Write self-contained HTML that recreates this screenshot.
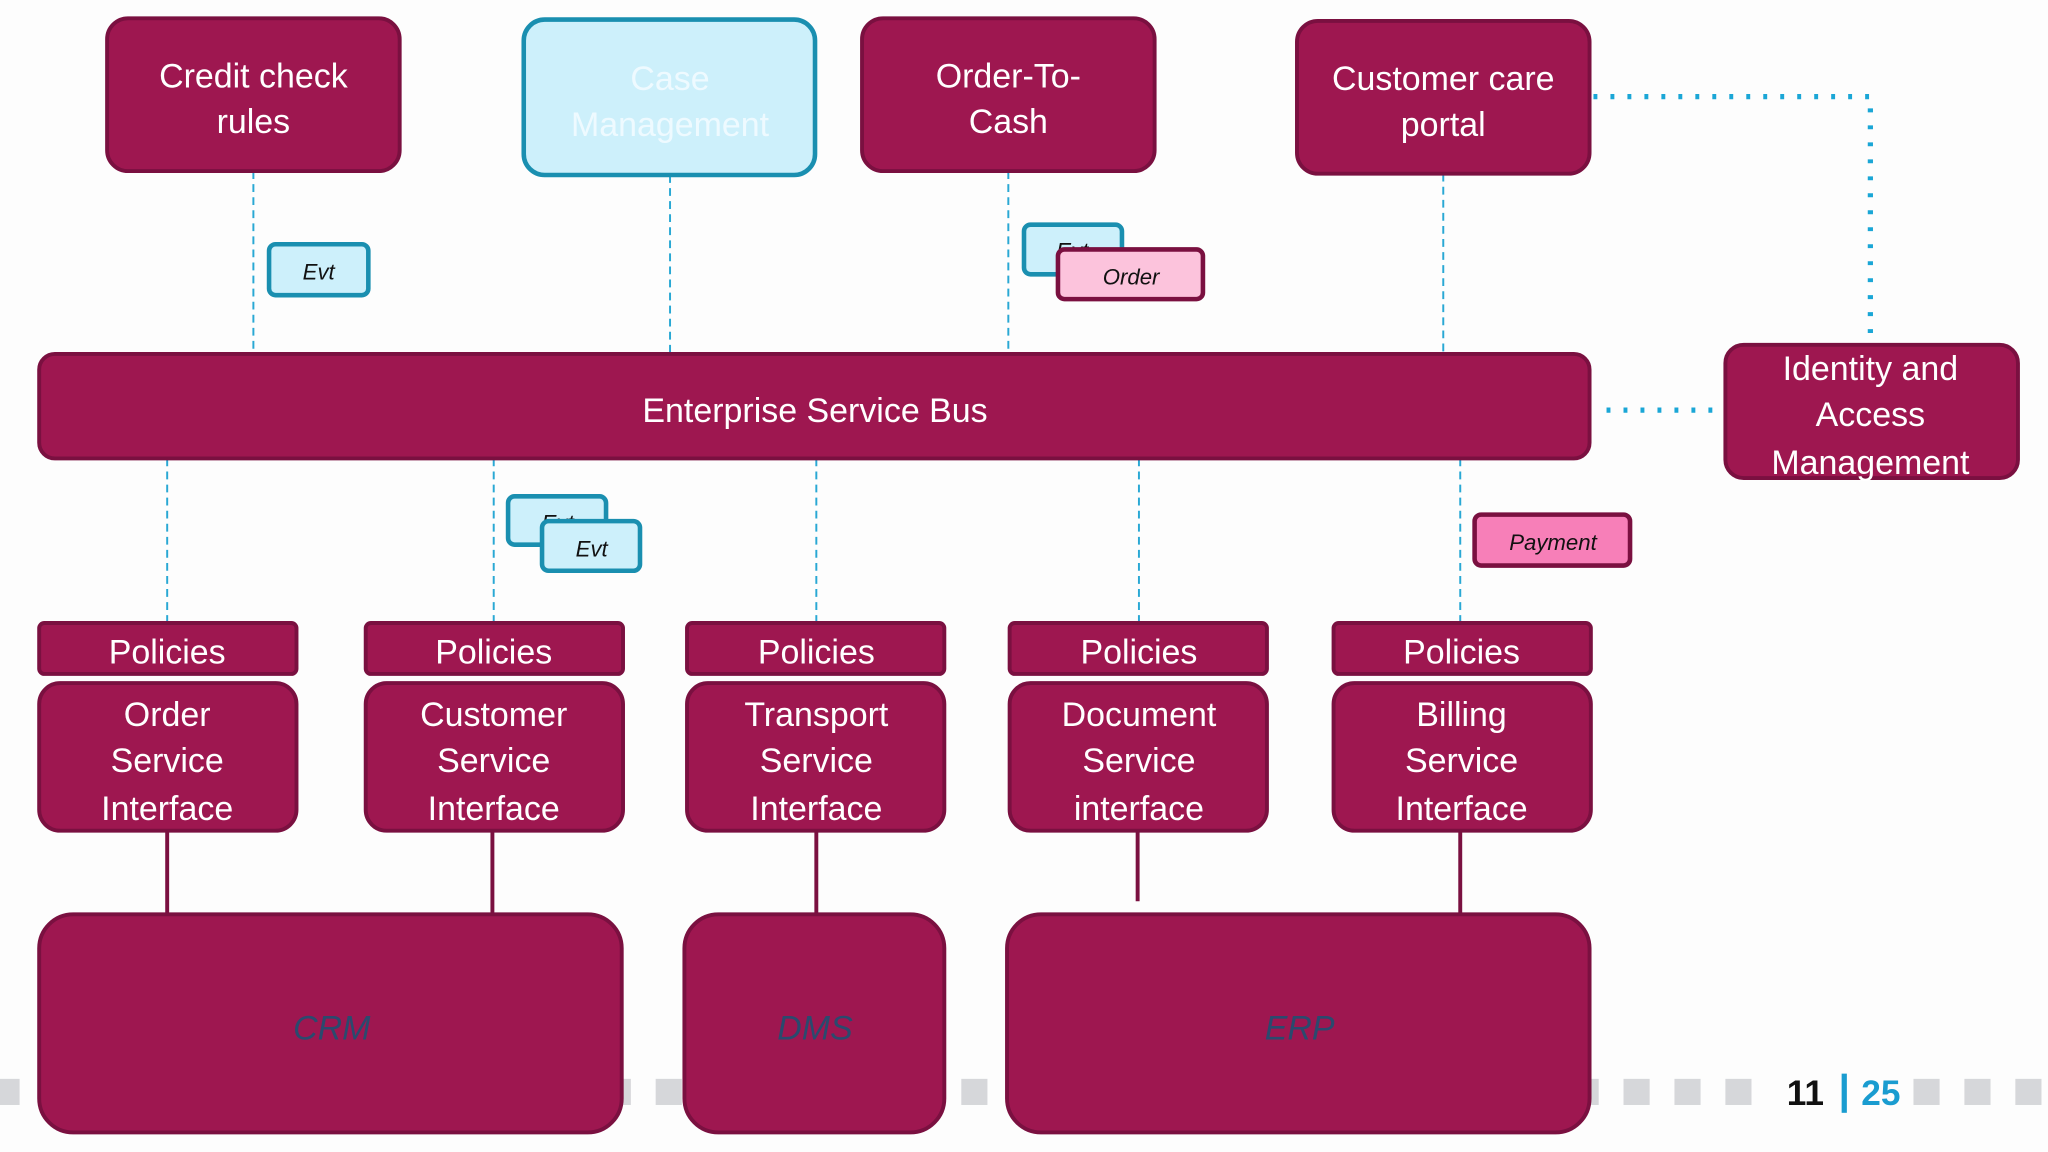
<!DOCTYPE html>
<html><head><meta charset="utf-8"><style>
html,body{margin:0;padding:0;background:#fff;width:2048px;height:1152px;overflow:hidden}
svg{display:block}
text{font-family:"Liberation Sans",sans-serif}
</style></head><body>
<svg width="2048" height="1152" viewBox="0 0 1568 882" xmlns="http://www.w3.org/2000/svg">
<rect width="1568" height="882" fill="#fdfdfd"/>
<g fill="#d6d7da">
<rect x="-5" y="826" width="20" height="20"/><rect x="34" y="826" width="20" height="20"/><rect x="73" y="826" width="20" height="20"/><rect x="112" y="826" width="20" height="20"/><rect x="151" y="826" width="20" height="20"/><rect x="190" y="826" width="20" height="20"/><rect x="229" y="826" width="20" height="20"/><rect x="268" y="826" width="20" height="20"/><rect x="307" y="826" width="20" height="20"/><rect x="346" y="826" width="20" height="20"/><rect x="385" y="826" width="20" height="20"/><rect x="424" y="826" width="20" height="20"/><rect x="463" y="826" width="20" height="20"/><rect x="502" y="826" width="20" height="20"/><rect x="541" y="826" width="20" height="20"/><rect x="580" y="826" width="20" height="20"/><rect x="619" y="826" width="20" height="20"/><rect x="658" y="826" width="20" height="20"/><rect x="697" y="826" width="20" height="20"/><rect x="736" y="826" width="20" height="20"/><rect x="775" y="826" width="20" height="20"/><rect x="814" y="826" width="20" height="20"/><rect x="853" y="826" width="20" height="20"/><rect x="892" y="826" width="20" height="20"/><rect x="931" y="826" width="20" height="20"/><rect x="970" y="826" width="20" height="20"/><rect x="1009" y="826" width="20" height="20"/><rect x="1048" y="826" width="20" height="20"/><rect x="1087" y="826" width="20" height="20"/><rect x="1126" y="826" width="20" height="20"/><rect x="1165" y="826" width="20" height="20"/><rect x="1204" y="826" width="20" height="20"/><rect x="1243" y="826" width="20" height="20"/><rect x="1282" y="826" width="20" height="20"/><rect x="1321" y="826" width="20" height="20"/><rect x="1465" y="826" width="20" height="20"/><rect x="1504" y="826" width="20" height="20"/><rect x="1543" y="826" width="20" height="20"/>
</g>
<text x="1368" y="846" font-size="27" font-weight="bold" fill="#111">11</text>
<rect x="1410" y="822" width="4" height="30" fill="#1a9cd0"/>
<text x="1425" y="846" font-size="27" font-weight="bold" fill="#1a9cd0">25</text>

<g stroke="#29a8d4" stroke-width="1.5" stroke-dasharray="6,4">
<line x1="194" y1="131" x2="194" y2="271"/><line x1="513" y1="134" x2="513" y2="271"/><line x1="772" y1="131" x2="772" y2="271"/><line x1="1105" y1="133" x2="1105" y2="271"/>
<line x1="128" y1="351" x2="128" y2="477"/><line x1="378" y1="351" x2="378" y2="477"/><line x1="625" y1="351" x2="625" y2="477"/><line x1="872" y1="351" x2="872" y2="477"/><line x1="1118" y1="351" x2="1118" y2="477"/>
</g>
<g stroke="#1aa6d6" stroke-width="4" stroke-dasharray="3,10" fill="none">
<polyline points="1220,74 1432,74 1432,264"/>
<line x1="1230" y1="314" x2="1318" y2="314"/>
</g>
<g stroke="#7a1040" stroke-width="3">
<line x1="128" y1="636" x2="128" y2="700"/><line x1="377" y1="636" x2="377" y2="700"/><line x1="625" y1="636" x2="625" y2="700"/><line x1="871" y1="636" x2="871" y2="690"/><line x1="1118" y1="636" x2="1118" y2="700"/>
</g>

<g fill="#9e1750" stroke="#7a1040" stroke-width="3">
<rect x="82" y="14" width="224" height="117" rx="16"/>
<rect x="660" y="14" width="224" height="117" rx="16"/>
<rect x="993" y="16" width="224" height="117" rx="16"/>
<rect x="30" y="271" width="1187" height="80" rx="12"/>
<rect x="1321" y="264" width="224" height="102" rx="14"/>
<rect x="30" y="477" width="197" height="39" rx="4"/><rect x="280" y="477" width="197" height="39" rx="4"/><rect x="526" y="477" width="197" height="39" rx="4"/><rect x="773" y="477" width="197" height="39" rx="4"/><rect x="1021" y="477" width="197" height="39" rx="4"/>
<rect x="30" y="523" width="197" height="113" rx="16"/><rect x="280" y="523" width="197" height="113" rx="16"/><rect x="526" y="523" width="197" height="113" rx="16"/><rect x="773" y="523" width="197" height="113" rx="16"/><rect x="1021" y="523" width="197" height="113" rx="16"/>
<rect x="30" y="700" width="446" height="167" rx="26"/>
<rect x="524" y="700" width="199" height="167" rx="26"/>
<rect x="771" y="700" width="446" height="167" rx="26"/>
</g>
<rect x="401" y="15" width="223" height="119" rx="16" fill="#cdf0fb" stroke="#1a8fb0" stroke-width="3.5"/>

<g font-size="17" font-style="italic" fill="#111" text-anchor="middle">
<rect x="206" y="187" width="76" height="39" rx="5" fill="#cdf0fb" stroke="#1a8fb0" stroke-width="3.5"/>
<text x="244" y="214">Evt</text>
<rect x="784" y="172" width="75" height="38" rx="5" fill="#cdf0fb" stroke="#1a8fb0" stroke-width="3.5"/>
<text x="821" y="198">Evt</text>
<rect x="810" y="191" width="111" height="38" rx="5" fill="#fcc3dc" stroke="#7a1040" stroke-width="3.5"/>
<text x="866" y="218">Order</text>
<rect x="389" y="380" width="75" height="37" rx="5" fill="#cdf0fb" stroke="#1a8fb0" stroke-width="3.5"/>
<text x="427" y="406">Evt</text>
<rect x="415" y="399" width="75" height="38" rx="5" fill="#cdf0fb" stroke="#1a8fb0" stroke-width="3.5"/>
<text x="453" y="426">Evt</text>
<rect x="1129" y="394" width="119" height="39" rx="5" fill="#f77fb8" stroke="#7a1040" stroke-width="3.5"/>
<text x="1189" y="421">Payment</text>
</g>

<g font-size="26" fill="#fff" text-anchor="middle">
<text x="194" y="67">Credit check</text><text x="194" y="102">rules</text>
<text x="513" y="69" fill="#eefaff">Case</text><text x="513" y="104" fill="#eefaff">Management</text>
<text x="772" y="67">Order-To-</text><text x="772" y="102">Cash</text>
<text x="1105" y="69">Customer care</text><text x="1105" y="104">portal</text>
<text x="624" y="323">Enterprise Service Bus</text>
<text x="1432" y="291">Identity and</text><text x="1432" y="326">Access</text><text x="1432" y="363">Management</text>
<text x="128" y="508">Policies</text><text x="378" y="508">Policies</text><text x="625" y="508">Policies</text><text x="872" y="508">Policies</text><text x="1119" y="508">Policies</text>
<text x="128" y="556">Order</text><text x="128" y="591">Service</text><text x="128" y="628">Interface</text>
<text x="378" y="556">Customer</text><text x="378" y="591">Service</text><text x="378" y="628">Interface</text>
<text x="625" y="556">Transport</text><text x="625" y="591">Service</text><text x="625" y="628">Interface</text>
<text x="872" y="556">Document</text><text x="872" y="591">Service</text><text x="872" y="628">interface</text>
<text x="1119" y="556">Billing</text><text x="1119" y="591">Service</text><text x="1119" y="628">Interface</text>
</g>
<g font-size="26" font-style="italic" fill="#2a4a6e" text-anchor="middle">
<text x="254" y="796">CRM</text><text x="624" y="796">DMS</text><text x="995" y="796">ERP</text>
</g>
</svg>
</body></html>
